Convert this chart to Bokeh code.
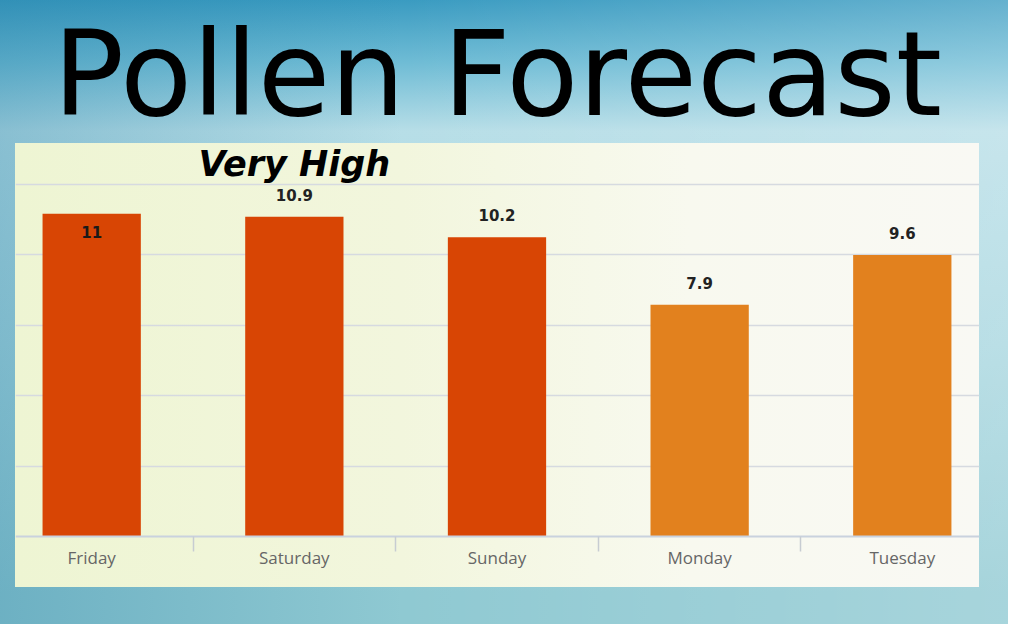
from bokeh.plotting import figure
from bokeh.models import ColumnDataSource, FixedTicker, LinearAxis, Grid, Range1d, Label
from bokeh.core.properties import value
from bokeh.embed import file_html
from bokeh.resources import INLINE

# ---- data ----
days = ["Friday", "Saturday", "Sunday", "Monday", "Tuesday"]
pollen = [11.0, 10.9, 10.2, 7.9, 9.6]
grid_values = [2.4, 4.8, 7.2, 9.6, 12.0]
high_threshold = 9.7
level_text = "Very High"
title_text = "Pollen Forecast"

RED = "#d84504"
ORANGE = "#e2811e"

idx = list(range(len(days)))
colors = [RED if v >= high_threshold else ORANGE for v in pollen]
labels = [("%g" % v) for v in pollen]

src = ColumnDataSource(dict(x=idx, top=pollen, color=colors, label=labels))

FL, FT, FW, FH = 15, 143, 964, 444   # frame placement on the canvas
W, H = 1008, 624

p = figure(width=W, height=H, output_backend="svg", toolbar_location=None,
           x_range=Range1d(-0.376, 4.381), y_range=Range1d(-1.724, 13.36),
           x_axis_location=None, y_axis_location=None,
           min_border_left=FL, min_border_right=W - FL - FW,
           min_border_top=FT, min_border_bottom=H - FT - FH)

# remove default grids
p.center = [r for r in p.center if not isinstance(r, Grid)]

p.styles = {"background":
    f"linear-gradient(90deg, #eef5d3 0%, #f2f6dd 40%, #f8f9ef 70%, #f9f9f4 100%) {FL}px {FT}px / {FW}px {FH}px no-repeat, "
    "linear-gradient(90deg, rgba(30,120,160,0.30) 0%, rgba(255,255,255,0) 40%, rgba(255,255,255,0.22) 100%), "
    "linear-gradient(180deg, #3a9bc1 0%, #6fbcd5 10%, #b7dee7 21%, #a7d6df 55%, #8fc9d2 95%, #8fc9d2 100%)"}
p.border_fill_alpha = 0
p.background_fill_alpha = 0
p.outline_line_color = None

p.title.text = title_text
p.title.text_font = "DejaVu Sans"
p.title.text_font_size = "118px"
p.title.text_font_style = "normal"
p.title.text_color = "black"
p.title.align = "center"
p.title.standoff = 4

grid = Grid(dimension=1, ticker=FixedTicker(ticks=grid_values),
            grid_line_color="#d6dae0", grid_line_width=1.6)
p.add_layout(grid)

xaxis = LinearAxis(ticker=FixedTicker(ticks=idx, minor_ticks=[i + 0.5 for i in idx[:-1]]))
xaxis.fixed_location = 0
xaxis.major_label_overrides = {i: d for i, d in zip(idx, days)}
xaxis.major_tick_out = 0
xaxis.major_tick_in = 0
xaxis.minor_tick_out = 15
xaxis.minor_tick_in = 0
xaxis.minor_tick_line_color = "#c7ccd2"
xaxis.minor_tick_line_width = 1.5
xaxis.axis_line_color = "#c9d2de"
xaxis.axis_line_width = 2
xaxis.major_label_standoff = -6
xaxis.major_label_text_font = "Open Sans"
xaxis.major_label_text_font_size = "17px"
xaxis.major_label_text_color = "#666666"
p.add_layout(xaxis, "below")

p.vbar(x="x", top="top", bottom=0, width=0.485, fill_color="color", line_color=None, source=src)

inside = ColumnDataSource(dict(x=idx[:1], y=pollen[:1], label=labels[:1]))
above = ColumnDataSource(dict(x=idx[1:], y=pollen[1:], label=labels[1:]))

p.text(x="x", y="y", text="label", source=above, text_font=value("DejaVu Sans"),
       text_font_size="15px", text_font_style="bold", text_color="#222222",
       text_align="center", text_baseline="middle", y_offset=-22)
p.text(x="x", y="y", text="label", source=inside, text_font=value("DejaVu Sans"),
       text_font_size="15px", text_font_style="bold", text_color="#1a1a1a",
       text_align="center", text_baseline="middle", y_offset=18)

p.add_layout(Label(x=1.0, y=12.7, text=level_text, text_font="DejaVu Sans",
                   text_font_size="35px", text_font_style="bold italic", text_color="black",
                   text_align="center", text_baseline="middle"))

open("out.html", "w").write(file_html(p, INLINE))
